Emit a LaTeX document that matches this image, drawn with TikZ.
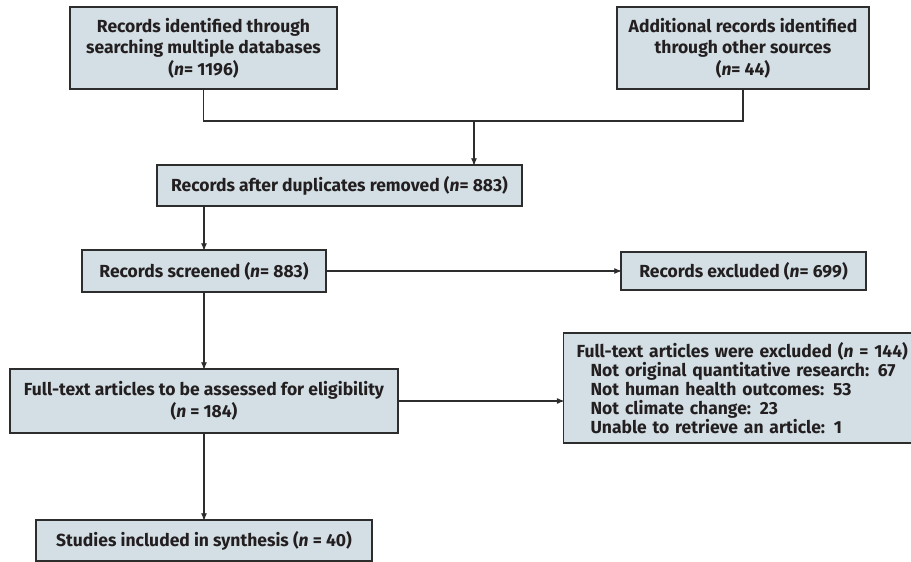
\documentclass[tikz,border=0pt]{standalone}
\usepackage{fontspec}
\setmainfont{Fira Sans}
\usepackage{tikz}
\usetikzlibrary{arrows}

\definecolor{boxfill}{RGB}{211,223,228}
\definecolor{boxline}{RGB}{45,45,45}
\definecolor{boxtext}{RGB}{35,31,32}

\begin{document}
\begin{tikzpicture}[x=1pt,y=-1pt,->,>=stealth',line width=1.2pt,draw=boxline,
                    box node/.style={rectangle,draw=boxline,fill=boxfill,inner sep=0pt,align=center,
                                     text=boxtext,font=\fontsize{17.5}{21.5}\selectfont\bfseries}]

  \useasboundingbox (0,0) rectangle (911,562);
  \clip (0,0) rectangle (911,562);

  \node[box node,minimum width=267pt,minimum height=82pt] (1) at (203.5,48)
    {Records identified through\\searching multiple databases\\(\textit{n}= 1196)};
  \node[box node,minimum width=252pt,minimum height=82pt] (2) at (743,48)
    {Additional records identified\\through other sources\\(\textit{n}= 44)};
  \node[box node,minimum width=365pt,minimum height=41pt] (3) at (339.5,185.5)
    {Records after duplicates removed (\textit{n}= 883)};
  \node[box node,minimum width=244pt,minimum height=42pt] (4) at (204,271)
    {Records screened (\textit{n}= 883)};
  \node[box node,minimum width=245pt,minimum height=38pt] (5) at (743.5,271)
    {Records excluded (\textit{n}= 699)};
  \node[box node,minimum width=388pt,minimum height=64pt] (6) at (204,401)
    {Full-text articles to be assessed for eligibility\\(\textit{n} = 184)};
  \node[box node,anchor=west,align=left,text width=354pt,inner xsep=13pt,minimum height=110pt,
        font=\fontsize{17.5}{19}\selectfont\bfseries] (7) at (563,388)
    {Full-text articles were excluded (\textit{n} = 144)\\
     \hspace*{14pt}Not original quantitative research: 67\\
     \hspace*{14pt}Not human health outcomes: 53\\
     \hspace*{14pt}Not climate change: 23\\
     \hspace*{14pt}Unable to retrieve an article: 1};
  \node[box node,minimum width=336pt,minimum height=41pt] (8) at (204,540.5)
    {Studies included in synthesis (\textit{n} = 40)};

  \coordinate (j) at (474,121);
  \draw[-] (1.south) |- (j) -| (2.south);

  \path
    (j) edge (j |- 3.north)
    (3.south -| 4.north) edge (4.north)
    (4) edge (5)
    (4) edge (6)
    (6.east) edge (6.east -| 7.west)
    (6) edge (8);
\end{tikzpicture}
\end{document}
